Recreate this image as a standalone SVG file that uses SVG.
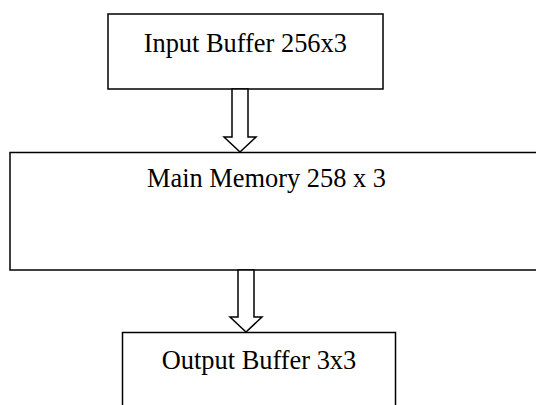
<svg xmlns="http://www.w3.org/2000/svg" width="536" height="405" viewBox="0 0 536 405">
<style>
.box{fill:#fff;stroke:#000;stroke-width:1.5}
.arr{fill:#fff;stroke:#000;stroke-width:1.5;stroke-linejoin:miter}
.lbl{font-family:"Liberation Serif","Times New Roman",serif;font-size:26.4px;fill:#000;text-anchor:middle}
</style>
<rect width="536" height="405" fill="#fff"/>
<g id="input-buffer">
<rect class="box" x="108" y="14" width="275" height="75"/>
<text class="lbl" x="245.3" y="52">Input Buffer 256x3</text>
</g>
<g id="main-memory">
<rect class="box" x="10" y="152.5" width="540" height="117.5"/>
<text class="lbl" x="266.5" y="187">Main Memory 258 x 3</text>
</g>
<g id="output-buffer">
<rect class="box" x="122.5" y="332.5" width="273" height="90"/>
<text class="lbl" x="259" y="369">Output Buffer 3x3</text>
</g>
<g id="connectors">
<polygon class="arr" points="232,89 248,89 248,137 256,137 240,152 224,137 232,137"/>
<polygon class="arr" points="238,270 254,270 254,317 262,317 246,332 230,317 238,317"/>
</g>
</svg>
